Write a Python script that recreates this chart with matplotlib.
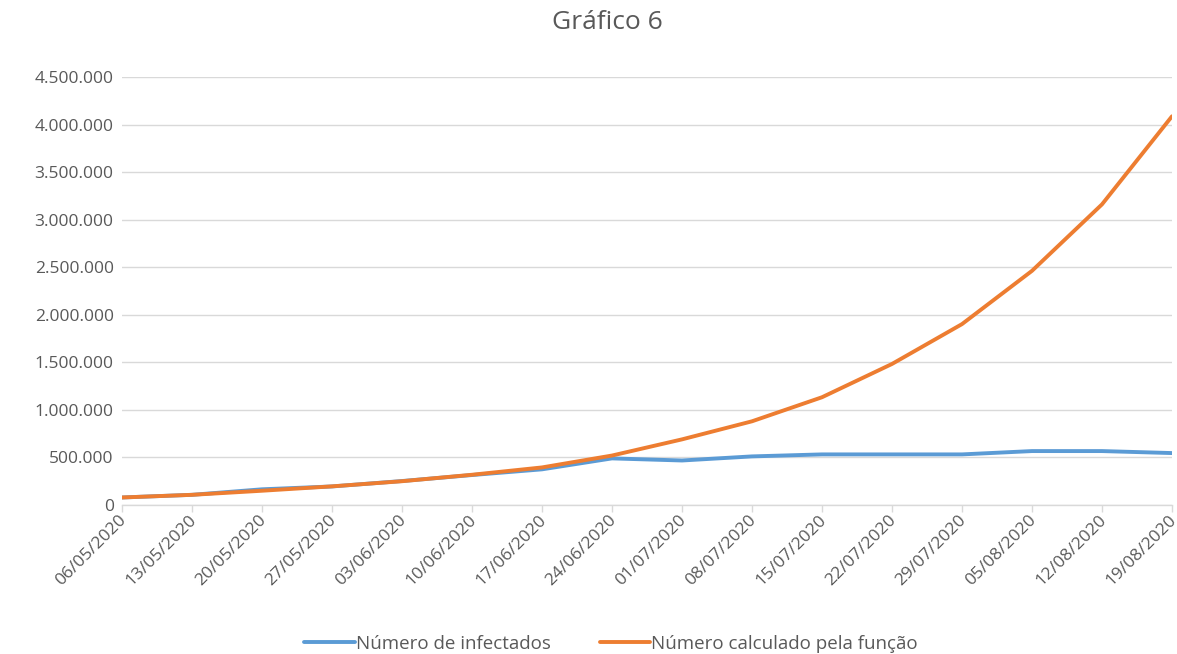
import matplotlib
matplotlib.use("Agg")
import matplotlib.pyplot as plt
from matplotlib.ticker import FuncFormatter, MultipleLocator

# Weekly dates
datas = ["06/05/2020", "13/05/2020", "20/05/2020", "27/05/2020", "03/06/2020",
         "10/06/2020", "17/06/2020", "24/06/2020", "01/07/2020", "08/07/2020",
         "15/07/2020", "22/07/2020", "29/07/2020", "05/08/2020", "12/08/2020",
         "19/08/2020"]

# Observed number of infected
infectados = [79000, 107000, 165000, 195000, 252000, 315000, 375000, 490000,
              468000, 511000, 532000, 532000, 532000, 567000, 567000, 546000]

# Number computed by the fitted function
calculado = [79000, 107000, 150000, 196000, 250000, 318000, 395000, 520000,
             690000, 880000, 1133000, 1483000, 1902000, 2462000, 3161000, 4087000]

serie_nomes = ["Número de infectados", "Número calculado pela função"]
cores = ["#5B9BD5", "#ED7D31"]

plt.rcParams["font.family"] = ["Open Sans", "DejaVu Sans"]
texto = "#595959"

fig = plt.figure(figsize=(11.77, 6.54), dpi=100)
ax = fig.add_axes([122 / 1177, 1 - 505 / 654, (1172 - 122) / 1177, (505 - 77) / 654])

x = list(range(len(datas)))
ax.plot(x, infectados, color=cores[0], lw=2.8, label=serie_nomes[0],
        solid_capstyle="round", solid_joinstyle="round", zorder=3)
ax.plot(x, calculado, color=cores[1], lw=2.8, label=serie_nomes[1],
        solid_capstyle="round", solid_joinstyle="round", zorder=4)

ax.set_xlim(0, len(datas) - 1)
ax.set_ylim(0, 4500000)
ax.yaxis.set_major_locator(MultipleLocator(500000))
ax.yaxis.set_major_formatter(FuncFormatter(lambda v, p: f"{int(v):,}".replace(",", ".")))
ax.grid(axis="y", color="#d9d9d9", lw=1)
ax.set_axisbelow(True)

# Category ticks with rotated date labels hanging from each tick
ax.set_xticks(x)
ax.set_xticklabels([])
for i, d in enumerate(datas):
    ax.annotate(d, xy=(i, 0), xycoords=("data", "axes fraction"),
                xytext=(-2.5, -5), textcoords="offset points",
                rotation=45, rotation_mode="anchor", ha="right", va="top",
                fontsize=12.5, color=texto, annotation_clip=False)

for s in ["top", "right", "left"]:
    ax.spines[s].set_visible(False)
ax.spines["bottom"].set_color("#d9d9d9")
ax.spines["bottom"].set_linewidth(1)
ax.tick_params(axis="x", colors="#d9d9d9", length=5, width=1)
ax.tick_params(axis="y", length=0, labelcolor=texto, labelsize=12.5, pad=6)

fig.suptitle("Gráfico 6", x=607 / 1177, y=1 - 10 / 654, va="top",
             fontsize=19, color=texto)

fig.legend(loc="center", bbox_to_anchor=(611 / 1177, 1 - 644 / 654), ncol=2,
           frameon=False, fontsize=13.5, labelcolor=texto, handlelength=2.7,
           handletextpad=0.05, columnspacing=2.6)

fig.savefig("out.png", dpi=100, facecolor="white")
